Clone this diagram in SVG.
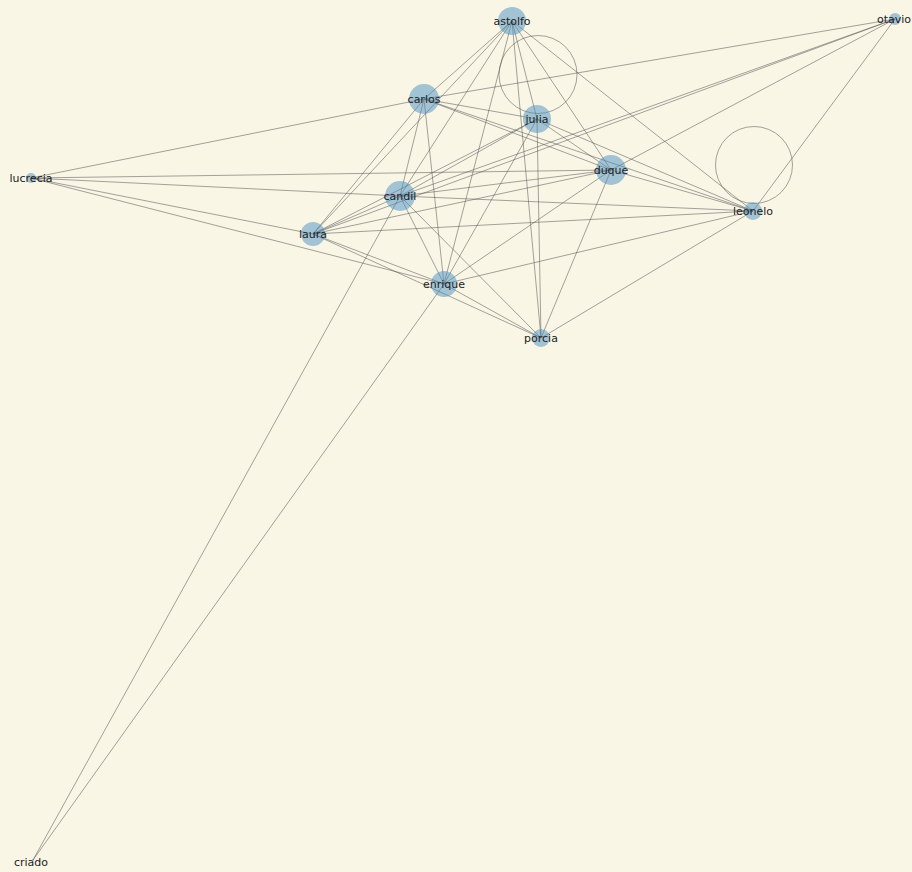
<svg xmlns="http://www.w3.org/2000/svg" width="912" height="872" viewBox="0 0 912 872">
<style>
.bg{fill:#faf6e6}
.e line,.e circle{stroke:#555;stroke-opacity:0.68;stroke-width:0.8;fill:none}
.n circle{fill:#4a90c0;fill-opacity:0.5}
.n text{font-family:"DejaVu Sans",sans-serif;font-size:11px;fill:#222;text-anchor:middle;dominant-baseline:central}
</style>
<rect class="bg" x="0" y="0" width="912" height="872"/>
<g id="connectors" class="e">
<!-- astolfo -->
<line x1="512" y1="21" x2="424" y2="99"/>
<line x1="512" y1="21" x2="400" y2="196"/>
<line x1="512" y1="21" x2="313" y2="234"/>
<line x1="512" y1="21" x2="444" y2="284"/>
<line x1="512" y1="21" x2="537" y2="119"/>
<line x1="512" y1="21" x2="541" y2="338"/>
<line x1="512" y1="21" x2="611" y2="170"/>
<line x1="512" y1="21" x2="753" y2="211"/>
<!-- carlos -->
<line x1="424" y1="99" x2="31" y2="178"/>
<line x1="424" y1="99" x2="895" y2="19"/>
<line x1="424" y1="99" x2="313" y2="234"/>
<line x1="424" y1="99" x2="400" y2="196"/>
<line x1="424" y1="99" x2="444" y2="284"/>
<line x1="424" y1="99" x2="537" y2="119"/>
<line x1="424" y1="99" x2="611" y2="170"/>
<line x1="424" y1="99" x2="753" y2="211"/>
<!-- julia -->
<line x1="537" y1="119" x2="400" y2="196"/>
<line x1="537" y1="119" x2="313" y2="234"/>
<line x1="537" y1="119" x2="444" y2="284"/>
<line x1="537" y1="119" x2="541" y2="338"/>
<line x1="537" y1="119" x2="611" y2="170"/>
<line x1="537" y1="119" x2="753" y2="211"/>
<!-- candil -->
<line x1="400" y1="196" x2="31" y2="178"/>
<line x1="400" y1="196" x2="313" y2="234"/>
<line x1="400" y1="196" x2="611" y2="170"/>
<line x1="400" y1="196" x2="753" y2="211"/>
<line x1="400" y1="196" x2="444" y2="284"/>
<line x1="400" y1="196" x2="541" y2="338"/>
<line x1="400" y1="196" x2="895" y2="19"/>
<line x1="400" y1="196" x2="33" y2="860"/>
<!-- laura -->
<line x1="313" y1="234" x2="31" y2="178"/>
<line x1="313" y1="234" x2="611" y2="170"/>
<line x1="313" y1="234" x2="895" y2="19"/>
<line x1="313" y1="234" x2="753" y2="211"/>
<line x1="313" y1="234" x2="444" y2="284"/>
<line x1="313" y1="234" x2="541" y2="338"/>
<!-- enrique -->
<line x1="444" y1="284" x2="31" y2="178"/>
<line x1="444" y1="284" x2="611" y2="170"/>
<line x1="444" y1="284" x2="753" y2="211"/>
<line x1="444" y1="284" x2="541" y2="338"/>
<line x1="444" y1="284" x2="33" y2="860"/>
<!-- duque -->
<line x1="611" y1="170" x2="31" y2="178"/>
<line x1="611" y1="170" x2="753" y2="211"/>
<line x1="611" y1="170" x2="541" y2="338"/>
<line x1="611" y1="170" x2="895" y2="19"/>
<!-- porcia / leonelo -->
<line x1="541" y1="338" x2="753" y2="211"/>
<line x1="753" y1="211" x2="895" y2="19"/>
<!-- self loops -->
<circle cx="538" cy="74.5" r="39"/>
<circle cx="754" cy="165" r="38.5"/>
</g>
<g id="astolfo" class="n"><circle cx="512" cy="21" r="14"/><text x="512" y="21">astolfo</text></g>
<g id="carlos" class="n"><circle cx="424" cy="99" r="15"/><text x="424" y="99">carlos</text></g>
<g id="julia" class="n"><circle cx="537" cy="119" r="14"/><text x="537" y="119">julia</text></g>
<g id="candil" class="n"><circle cx="400" cy="196" r="15"/><text x="400" y="196">candil</text></g>
<g id="laura" class="n"><circle cx="313" cy="234" r="12"/><text x="313" y="234">laura</text></g>
<g id="enrique" class="n"><circle cx="444" cy="284" r="13"/><text x="444" y="284">enrique</text></g>
<g id="duque" class="n"><circle cx="611" cy="170" r="15"/><text x="611" y="170">duque</text></g>
<g id="leonelo" class="n"><circle cx="753" cy="211" r="9"/><text x="753" y="211">leonelo</text></g>
<g id="lucrecia" class="n"><circle cx="31" cy="178" r="5"/><text x="31" y="178">lucrecia</text></g>
<g id="otavio" class="n"><circle cx="895" cy="19" r="6"/><text x="894" y="19">otavio</text></g>
<g id="porcia" class="n"><circle cx="541" cy="338" r="9"/><text x="541" y="338">porcia</text></g>
<g id="criado" class="n"><circle cx="33" cy="860" r="1"/><text x="31" y="862">criado</text></g>
</svg>
